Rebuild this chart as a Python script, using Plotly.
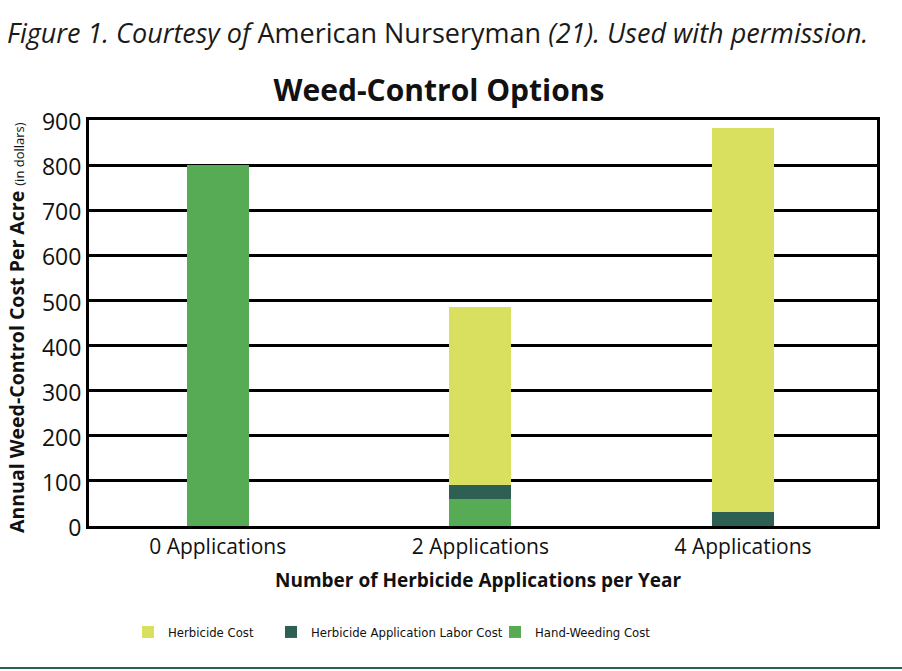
import plotly.graph_objects as go

categories = ["0 Applications", "2 Applications", "4 Applications"]
hand_weeding = [800, 60, 0]
labor = [0, 31, 31]
herbicide = [0, 394, 852]

series_names = ["Hand-Weeding Cost", "Herbicide Application Labor Cost", "Herbicide Cost"]
series_colors = ["#58AB55", "#2D6052", "#D9DF5F"]
y_ticks = [0, 100, 200, 300, 400, 500, 600, 700, 800, 900]

W, H = 902, 671
ML, MR, MT, MB = 89, 25, 120, 145
PW, PH = W - ML - MR, H - MT - MB


def px_x(x):
    return (x - ML) / PW


def px_y(y):
    return (H - MB - y) / PH


fig = go.Figure()
legends = ["legend3", "legend2", "legend"]
for name, vals, col, lg in zip(series_names, [hand_weeding, labor, herbicide], series_colors, legends):
    fig.add_trace(go.Bar(
        x=categories, y=vals, name=name, marker_color=col, marker_line_width=0,
        width=0.236, legend=lg,
    ))

legend_font = dict(family="DejaVu Sans Condensed, sans-serif", size=13, color="#111")
leg_common = dict(orientation="h", xanchor="left", yanchor="middle", bgcolor="rgba(0,0,0,0)",
                  font=legend_font, itemwidth=30, borderwidth=0)

fig.update_layout(
    width=W, height=H,
    margin=dict(l=ML, r=MR, t=MT, b=MB),
    paper_bgcolor="white", plot_bgcolor="white",
    barmode="stack",
    bargap=0,
    title=dict(text="<b>Weed-Control Options</b>", x=439 / W, xanchor="center",
               y=1 - 90 / H, yanchor="middle",
               font=dict(family="Open Sans, sans-serif", size=30, color="#111")),
    xaxis=dict(range=[-0.49, 2.51], showgrid=False, showline=True, mirror=True,
               linecolor="black", linewidth=3, ticks="",
               tickfont=dict(family="Open Sans, sans-serif", size=21, color="#111")),
    yaxis=dict(range=[0, 900], tickvals=y_ticks, showgrid=True, gridcolor="black", gridwidth=2.5,
               showline=True, mirror=True, linecolor="black", linewidth=3, ticks="",
               zeroline=False, ticklabelshift=2, ticklabelstandoff=0,
               tickfont=dict(family="Open Sans, sans-serif", size=23, color="#111")),
    legend=dict(x=px_x(128), y=px_y(632), **leg_common),
    legend2=dict(x=px_x(271), y=px_y(632), **leg_common),
    legend3=dict(x=px_x(495), y=px_y(632), **leg_common),
    showlegend=True,
)

fig.add_annotation(
    text="<i>Figure 1. Courtesy of</i> American Nurseryman <i>(21). Used with permission.</i>",
    xref="paper", yref="paper", x=px_x(5), y=px_y(32), xanchor="left", yanchor="middle",
    showarrow=False, font=dict(family="Open Sans, sans-serif", size=27, color="#1a1a1a"))

fig.add_annotation(
    text="<b>Annual Weed-Control Cost Per Acre</b> <span style='font-size:13px'>(in dollars)</span>",
    xref="paper", yref="paper", x=px_x(16), y=px_y(328), xanchor="center", yanchor="middle",
    textangle=-90, showarrow=False,
    font=dict(family="Open Sans, sans-serif", size=19.5, color="#111"))

fig.add_annotation(
    text="<b>Number of Herbicide Applications per Year</b>",
    xref="paper", yref="paper", x=px_x(478), y=px_y(580), xanchor="center", yanchor="middle",
    showarrow=False, font=dict(family="Open Sans, sans-serif", size=19, color="#111"))

fig.add_shape(type="line", xref="paper", yref="paper", x0=px_x(0), x1=px_x(W), y0=px_y(668), y1=px_y(668),
              line=dict(color="#2D6052", width=2))

fig.write_html("out.html", config={"displayModeBar": False},
               post_script="document.body.style.margin='0';")
